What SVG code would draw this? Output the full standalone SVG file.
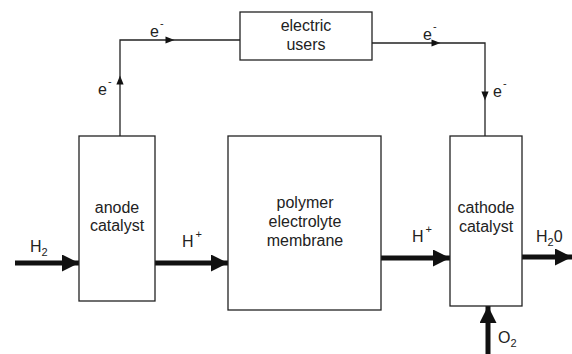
<svg xmlns="http://www.w3.org/2000/svg" width="572" height="354" viewBox="0 0 572 354">
<style>
.box{fill:#fff;stroke:#222;stroke-width:1.3}
.t{font-family:"Liberation Sans",Arial,sans-serif;font-size:16px;fill:#222;text-anchor:middle}
.l{font-family:"Liberation Sans",Arial,sans-serif;font-size:16px;fill:#222}
.s{font-size:11px}
.thin{fill:none;stroke:#222;stroke-width:1.3}
.thick{fill:none;stroke:#111;stroke-width:5}
</style>
<defs>
<marker id="sa" viewBox="0 0 10 10" refX="5" refY="5" markerWidth="10" markerHeight="9" markerUnits="userSpaceOnUse" orient="auto"><path d="M0,1 L10,5 L0,9 z" fill="#111"/></marker>
<marker id="ba" viewBox="0 0 10 10" refX="10" refY="5" markerWidth="4" markerHeight="3.4" orient="auto"><path d="M0,0 L10,5 L0,10 z" fill="#111"/></marker>
</defs>
<rect width="572" height="354" fill="#fff"/>
<g id="connectors">
<path class="thin" d="M120,136 V80" marker-end="url(#sa)"/>
<path class="thin" d="M120,80 V40 H170" marker-end="url(#sa)"/>
<path class="thin" d="M170,40 H240"/>
<path class="thin" d="M372,43 H436" marker-end="url(#sa)"/>
<path class="thin" d="M436,43 H485 V96" marker-end="url(#sa)"/>
<path class="thin" d="M485,96 V136"/>
<path class="thick" d="M15,263 H79" marker-end="url(#ba)"/>
<path class="thick" d="M155,263 H228" marker-end="url(#ba)"/>
<path class="thick" d="M381,258 H450" marker-end="url(#ba)"/>
<path class="thick" d="M522,257 H572" marker-end="url(#ba)"/>
<path class="thick" d="M488,354 V306" marker-end="url(#ba)"/>
<text class="l" x="98" y="95">e<tspan class="s" dx="1" dy="-10">-</tspan></text>
<text class="l" x="150" y="37">e<tspan class="s" dx="1" dy="-10">-</tspan></text>
<text class="l" x="423" y="40">e<tspan class="s" dx="1" dy="-10">-</tspan></text>
<text class="l" x="493" y="97">e<tspan class="s" dx="1" dy="-10">-</tspan></text>
<text class="l" x="30" y="252">H<tspan class="s" dy="4">2</tspan></text>
<text class="l" x="182" y="247">H<tspan class="s" dx="2" dy="-9">+</tspan></text>
<text class="l" x="412" y="242">H<tspan class="s" dx="2" dy="-9">+</tspan></text>
<text class="l" x="536" y="242">H<tspan class="s" dy="4">2</tspan><tspan dy="-4">0</tspan></text>
<text class="l" x="498" y="343">O<tspan class="s" dy="4">2</tspan></text>
</g>
<g id="users"><rect class="box" x="240" y="12" width="132" height="48"/><text class="t" x="306" y="31">electric</text><text class="t" x="306" y="50">users</text></g>
<g id="anode"><rect class="box" x="79" y="136" width="76" height="165"/><text class="t" x="117" y="213">anode</text><text class="t" x="117" y="231">catalyst</text></g>
<g id="membrane"><rect class="box" x="228" y="136" width="153" height="174"/><text class="t" x="305" y="208">polymer</text><text class="t" x="305" y="227">electrolyte</text><text class="t" x="305" y="246">membrane</text></g>
<g id="cathode"><rect class="box" x="450" y="136" width="72" height="170"/><text class="t" x="486" y="213">cathode</text><text class="t" x="486" y="232">catalyst</text></g>
</svg>
